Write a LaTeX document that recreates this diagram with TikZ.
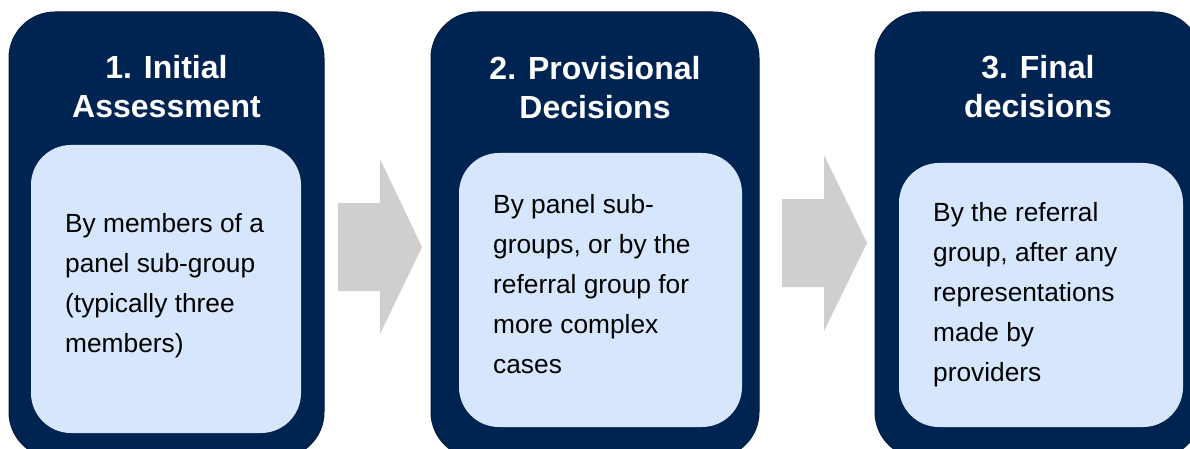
\documentclass[tikz,border=0pt]{standalone}
\usepackage{fontspec}
\setmainfont{Liberation Sans}
\usetikzlibrary{positioning}
\definecolor{rvnavy}{RGB}{0,36,82}
\definecolor{rvedge}{RGB}{0,27,62}
\definecolor{rvlight}{RGB}{214,230,252}
\definecolor{rvgrey}{RGB}{208,206,206}
\tikzset{
  rvstage/.style={draw=rvedge, line width=1pt, fill=rvnavy, rounded corners=46pt, minimum height=446pt, inner sep=0pt},
  rvinner/.style={fill=rvlight, rounded corners=40pt, inner sep=0pt},
  rvtitle/.style={text=white, font=\fontsize{32}{39}\selectfont\bfseries, align=center, inner sep=0pt, anchor=north},
  rvbody/.style={text=black, font=\fontsize{26.3}{40}\selectfont, align=left, inner sep=0pt, anchor=north west},
  rvarrow/.style={fill=rvgrey}
}

\begin{document}
\begin{tikzpicture}[x=1pt, y=-1pt]
  \useasboundingbox (0,0) rectangle (1190,449);
  \clip (0,0) rectangle (1190,449);
  \node[rvstage, minimum width=315pt] (s1) at (166.5,235) {};
  \node[rvstage, minimum width=328pt] (s2) at (595,235) {};
  \node[rvstage, minimum width=326pt] (s3) at (1038,235) {};
  \node[rvinner, minimum width=270pt, minimum height=288pt] (b1) at (166,289) {};
  \node[rvinner, minimum width=283pt, minimum height=274pt] (b2) at (600.5,290) {};
  \node[rvinner, minimum width=284pt, minimum height=264pt] (b3) at (1041,295) {};
  \node[rvtitle] (t1) at (166.5,55) {1. Initial\\Assessment};
  \node[rvtitle] (t2) at (595,56) {2. Provisional\\Decisions};
  \node[rvtitle] (t3) at (1038,55) {3. Final\\decisions};
  \node[rvbody] (d1) at (65,213) {By members of a\\panel sub-group\\(typically three\\members)};
  \node[rvbody] (d2) at (493,194) {By panel sub-\\groups, or by the\\referral group for\\more complex\\cases};
  \node[rvbody] (d3) at (933,202) {By the referral\\group, after any\\representations\\made by\\providers};
  \fill[rvarrow] (338,203) -- (380,203) -- (380,159) -- (422,247) -- (380,334) -- (380,291) -- (338,291) -- cycle;
  \fill[rvarrow] (782,199) -- (824,199) -- (824,155) -- (867,243) -- (824,331) -- (824,287) -- (782,287) -- cycle;
\end{tikzpicture}
\end{document}
